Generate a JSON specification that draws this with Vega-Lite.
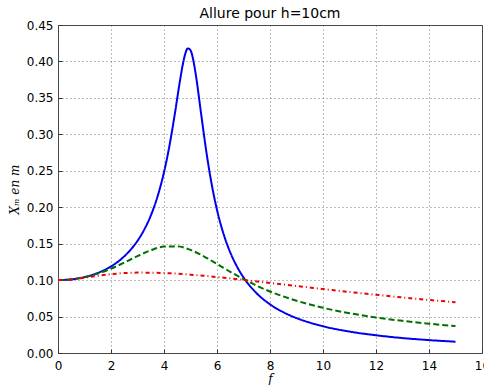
{
  "$schema": "https://vega.github.io/schema/vega-lite/v6.json",
  "autosize": {"type": "none"},
  "width": 424,
  "height": 328,
  "padding": {"left": 58, "top": 25, "right": 2, "bottom": 32},
  "background": "white",
  "config": {
    "font": "DejaVu Sans",
    "view": {"stroke": "#444444", "strokeWidth": 1},
    "axis": {
      "domain": false,
      "grid": true,
      "gridColor": "#555555",
      "gridDash": [1, 3],
      "gridWidth": 0.8,
      "tickColor": "#333333",
      "tickSize": -4,
      "labelPadding": 9,
      "labelFlush": false,
      "labelOverlap": false,
      "labelFont": "DejaVu Sans",
      "labelFontSize": 12,
      "labelColor": "black",
      "titleFont": "DejaVu Serif",
      "titleFontWeight": "normal",
      "titleFontStyle": "italic",
      "titleFontSize": 12,
      "titleColor": "black"
    }
  },
  "title": {
    "text": "Allure pour h=10cm",
    "font": "DejaVu Sans",
    "fontSize": 14,
    "fontWeight": "normal",
    "color": "black",
    "frame": "group",
    "anchor": "middle",
    "baseline": "bottom",
    "offset": 5,
    "dy": 21
  },
  "datasets": {
    "pts": [
      {"f": 0, "s": "a", "X": 0.1},
      {"f": 0.5, "s": "a", "X": 0.1010},
      {"f": 1, "s": "a", "X": 0.1042},
      {"f": 1.5, "s": "a", "X": 0.1098},
      {"f": 2, "s": "a", "X": 0.1188},
      {"f": 2.5, "s": "a", "X": 0.1326},
      {"f": 3, "s": "a", "X": 0.1539},
      {"f": 3.25, "s": "a", "X": 0.1689},
      {"f": 3.5, "s": "a", "X": 0.1884},
      {"f": 3.75, "s": "a", "X": 0.2140},
      {"f": 4, "s": "a", "X": 0.2480},
      {"f": 4.2, "s": "a", "X": 0.2832},
      {"f": 4.4, "s": "a", "X": 0.3261},
      {"f": 4.6, "s": "a", "X": 0.3729},
      {"f": 4.7, "s": "a", "X": 0.3941},
      {"f": 4.8, "s": "a", "X": 0.4101},
      {"f": 4.9, "s": "a", "X": 0.4179},
      {"f": 5, "s": "a", "X": 0.4154},
      {"f": 5.1, "s": "a", "X": 0.4027},
      {"f": 5.2, "s": "a", "X": 0.3818},
      {"f": 5.4, "s": "a", "X": 0.3283},
      {"f": 5.6, "s": "a", "X": 0.2755},
      {"f": 5.8, "s": "a", "X": 0.2314},
      {"f": 6, "s": "a", "X": 0.1964},
      {"f": 6.25, "s": "a", "X": 0.1630},
      {"f": 6.5, "s": "a", "X": 0.1380},
      {"f": 6.75, "s": "a", "X": 0.1188},
      {"f": 7, "s": "a", "X": 0.1037},
      {"f": 7.5, "s": "a", "X": 0.0818},
      {"f": 8, "s": "a", "X": 0.0668},
      {"f": 8.5, "s": "a", "X": 0.0560},
      {"f": 9, "s": "a", "X": 0.0479},
      {"f": 9.5, "s": "a", "X": 0.0417},
      {"f": 10, "s": "a", "X": 0.0367},
      {"f": 11, "s": "a", "X": 0.0294},
      {"f": 12, "s": "a", "X": 0.0243},
      {"f": 13, "s": "a", "X": 0.0205},
      {"f": 14, "s": "a", "X": 0.0177},
      {"f": 15, "s": "a", "X": 0.0155},

      {"f": 0, "s": "b", "X": 0.1},
      {"f": 0.5, "s": "b", "X": 0.1010},
      {"f": 1, "s": "b", "X": 0.1040},
      {"f": 1.5, "s": "b", "X": 0.1090},
      {"f": 2, "s": "b", "X": 0.1158},
      {"f": 2.5, "s": "b", "X": 0.1240},
      {"f": 3, "s": "b", "X": 0.1329},
      {"f": 3.5, "s": "b", "X": 0.1409},
      {"f": 4, "s": "b", "X": 0.1460},
      {"f": 4.5, "s": "b", "X": 0.1463},
      {"f": 5, "s": "b", "X": 0.1414},
      {"f": 5.5, "s": "b", "X": 0.1327},
      {"f": 6, "s": "b", "X": 0.1222},
      {"f": 6.5, "s": "b", "X": 0.1114},
      {"f": 7, "s": "b", "X": 0.1014},
      {"f": 7.5, "s": "b", "X": 0.0923},
      {"f": 8, "s": "b", "X": 0.0844},
      {"f": 9, "s": "b", "X": 0.0717},
      {"f": 10, "s": "b", "X": 0.0620},
      {"f": 11, "s": "b", "X": 0.0546},
      {"f": 12, "s": "b", "X": 0.0488},
      {"f": 13, "s": "b", "X": 0.0441},
      {"f": 14, "s": "b", "X": 0.0402},
      {"f": 15, "s": "b", "X": 0.0370},

      {"f": 0, "s": "c", "X": 0.1},
      {"f": 0.5, "s": "c", "X": 0.1009},
      {"f": 1, "s": "c", "X": 0.1033},
      {"f": 1.5, "s": "c", "X": 0.1059},
      {"f": 2, "s": "c", "X": 0.1081},
      {"f": 2.5, "s": "c", "X": 0.1096},
      {"f": 3, "s": "c", "X": 0.1103},
      {"f": 4, "s": "c", "X": 0.1097},
      {"f": 5, "s": "c", "X": 0.1075},
      {"f": 6, "s": "c", "X": 0.1042},
      {"f": 7, "s": "c", "X": 0.1003},
      {"f": 8, "s": "c", "X": 0.0961},
      {"f": 9, "s": "c", "X": 0.0919},
      {"f": 10, "s": "c", "X": 0.0878},
      {"f": 11, "s": "c", "X": 0.0837},
      {"f": 12, "s": "c", "X": 0.0799},
      {"f": 13, "s": "c", "X": 0.0762},
      {"f": 14, "s": "c", "X": 0.0728},
      {"f": 15, "s": "c", "X": 0.0696}
    ]
  },
  "data": {"name": "pts"},
  "mark": {"type": "line", "interpolate": "monotone", "strokeWidth": 2, "clip": true},
  "encoding": {
    "x": {
      "field": "f",
      "type": "quantitative",
      "scale": {"domain": [0, 16], "nice": false, "zero": false},
      "axis": {"title": "f", "values": [0, 2, 4, 6, 8, 10, 12, 14, 16], "format": "d", "labelPadding": 11, "titlePadding": 2}
    },
    "y": {
      "field": "X",
      "type": "quantitative",
      "scale": {"domain": [0, 0.45], "nice": false},
      "axis": {"title": "Xₘ en m", "values": [0, 0.05, 0.1, 0.15, 0.2, 0.25, 0.3, 0.35, 0.4, 0.45], "format": ".2f", "titlePadding": 5}
    },
    "color": {
      "field": "s",
      "type": "nominal",
      "scale": {"domain": ["a", "b", "c"], "range": ["#0000ee", "#007000", "#ee0000"]},
      "legend": null
    },
    "strokeDash": {
      "field": "s",
      "type": "nominal",
      "scale": {"domain": ["a", "b", "c"], "range": [[1, 0], [6, 3], [4, 3, 1, 3]]},
      "legend": null
    }
  }
}
